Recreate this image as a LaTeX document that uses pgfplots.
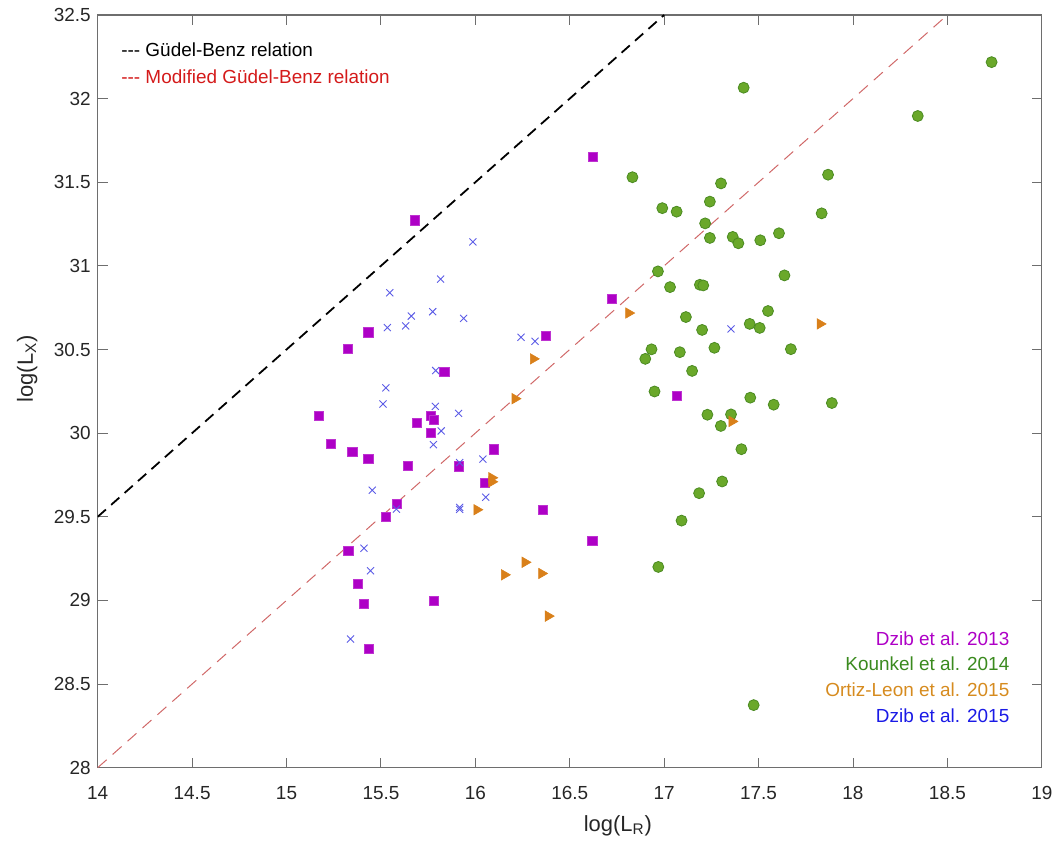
\documentclass[border=0pt]{standalone}
\usepackage{fontspec}
\setmainfont{Liberation Sans}
\usepackage{pgfplots}
\pgfplotsset{compat=1.18}
\definecolor{Pur}{HTML}{AE00C6}
\definecolor{GrnF}{HTML}{6AA82A}
\definecolor{GrnE}{HTML}{4B8B22}
\definecolor{GrnT}{HTML}{3A8A1E}
\definecolor{Org}{HTML}{D9801A}
\definecolor{OrgT}{HTML}{D68B1F}
\definecolor{BluX}{HTML}{5C5CE6}
\definecolor{BluT}{HTML}{1A1AE6}
\definecolor{RedT}{HTML}{D41A1A}
\definecolor{RedL}{HTML}{D06868}
\definecolor{AxG}{HTML}{6E6E6E}
\definecolor{TxG}{HTML}{262626}

\begin{document}
\begin{tikzpicture}
\begin{axis}[
  at={(0,0)},anchor=south west,
  width=473.5pt,height=377.5pt,scale only axis,
  xmin=14,xmax=19,ymin=28,ymax=32.5,
  xtick={14,14.5,...,19},ytick={28,28.5,...,32.5},
  xticklabels={14,14.5,15,15.5,16,16.5,17,17.5,18,18.5,19},
  yticklabels={28,28.5,29,29.5,30,30.5,31,31.5,32,32.5},
  /pgf/number format/assume math mode=true,
  tick label style={font=\fontsize{9.5}{11}\selectfont,text=TxG},
  xticklabel style={yshift=-6pt},
  tick align=inside,major tick length=5pt,
  tick style={draw=AxG,line width=0.5pt},
  axis line style={draw=AxG,line width=0.6pt},
  xlabel={log(L\textsubscript{R})},ylabel={log(L\textsubscript{X})},
  label style={font=\fontsize{11}{13}\selectfont,text=TxG},
  xlabel style={at={(axis description cs:0.551,-0.0848)},anchor=base},
  ylabel style={at={(axis description cs:-0.0686,0.53)},anchor=base},
  clip=true]

% relations
\addplot[black,line width=0.9pt,dash pattern=on 5.5pt off 3.5pt] coordinates {(14,29.5) (17,32.5)};
\addplot[RedL,line width=0.5pt,dash pattern=on 6pt off 4pt] coordinates {(14,28) (18.5,32.5)};

% Kounkel et al. 2014
\addplot[only marks,mark=*,mark size=2.75pt,mark options={fill=GrnF,draw=GrnE,line width=0.4pt}] coordinates {
(16.832,31.530) (17.421,32.065) (17.301,31.493) (17.868,31.545) (16.990,31.345)
(17.066,31.324) (17.242,31.384) (17.834,31.314) (17.217,31.254) (17.242,31.167)
(17.363,31.173) (17.393,31.135) (17.509,31.153) (17.608,31.195) (16.967,30.967)
(17.031,30.873) (17.189,30.887) (17.207,30.883) (17.637,30.943) (17.115,30.694)
(17.550,30.730) (17.453,30.653) (17.506,30.629) (17.201,30.617) (16.933,30.501)
(16.900,30.444) (17.083,30.484) (17.266,30.510) (17.671,30.502) (17.148,30.372)
(16.949,30.249) (17.456,30.212) (17.580,30.170) (17.888,30.180) (17.229,30.110)
(17.354,30.112) (17.300,30.043) (17.409,29.904) (17.307,29.711) (17.185,29.641)
(17.092,29.477) (16.969,29.200) (17.474,28.374) (18.343,31.896) (18.734,32.218)};

% Dzib et al. 2013
\addplot[only marks,mark=square*,mark size=2.3pt,mark options={fill=Pur,draw=Pur!80,line width=0.3pt}] coordinates {
(15.679,31.272) (16.624,31.654) (15.433,30.603) (15.324,30.505) (15.836,30.368)
(16.374,30.583) (16.721,30.803) (17.069,30.224) (15.169,30.102) (15.763,30.104)
(15.782,30.080) (15.690,30.064) (15.763,30.001) (15.233,29.937) (15.348,29.888)
(15.433,29.846) (16.096,29.903) (15.644,29.804) (15.913,29.802) (16.049,29.703)
(15.582,29.576) (15.526,29.500) (16.356,29.542) (16.619,29.358) (15.327,29.298)
(15.376,29.097) (15.410,28.982) (15.779,29.000) (15.436,28.710)};

% Ortiz-Leon et al. 2015
\addplot[only marks,mark=triangle*,mark size=3pt,mark options={rotate=-90,fill=Org,draw=Org,line width=0.3pt}] coordinates {
(16.307,30.444) (16.210,30.206) (16.812,30.718) (16.087,29.733) (16.087,29.709)
(16.008,29.542) (16.263,29.228) (16.154,29.153) (16.351,29.161) (16.386,28.906)
(17.826,30.653) (17.359,30.070)};

% Dzib et al. 2015
\addplot[only marks,mark=x,mark size=2.5pt,mark options={draw=BluX,line width=0.45pt}] coordinates {
(15.987,31.143) (15.816,30.921) (15.547,30.839) (15.774,30.726) (15.661,30.700)
(15.938,30.686) (15.534,30.631) (15.631,30.641) (16.242,30.573) (16.316,30.549)
(15.790,30.374) (15.526,30.271) (15.511,30.174) (15.788,30.160) (15.911,30.118)
(15.819,30.013) (15.778,29.931) (16.040,29.845) (15.917,29.824) (15.454,29.659)
(16.055,29.617) (15.582,29.546) (15.917,29.556) (15.917,29.544) (15.410,29.312)
(15.445,29.177) (15.339,28.769) (17.354,30.623)};

\node[anchor=base west,inner sep=0pt,font=\fontsize{9.5}{11}\selectfont,text=black] at (axis cs:14.123,32.251) {-{}-{}- Güdel-Benz relation};
\node[anchor=base west,inner sep=0pt,font=\fontsize{9.5}{11}\selectfont,text=RedT] at (axis cs:14.123,32.089) {-{}-{}- Modified Güdel-Benz relation};

\node[anchor=base east,inner sep=0pt,font=\fontsize{9.5}{11}\selectfont,text=Pur] at (axis cs:18.83,28.730) {Dzib et al. 2013};
\node[anchor=base east,inner sep=0pt,font=\fontsize{9.5}{11}\selectfont,text=GrnT] at (axis cs:18.83,28.581) {Kounkel et al. 2014};
\node[anchor=base east,inner sep=0pt,font=\fontsize{9.5}{11}\selectfont,text=OrgT] at (axis cs:18.83,28.428) {Ortiz-Leon et al. 2015};
\node[anchor=base east,inner sep=0pt,font=\fontsize{9.5}{11}\selectfont,text=BluT] at (axis cs:18.83,28.273) {Dzib et al. 2015};
\end{axis}
\path (-49pt,-39pt) rectangle (480.5pt,385pt);
\end{tikzpicture}
\end{document}
